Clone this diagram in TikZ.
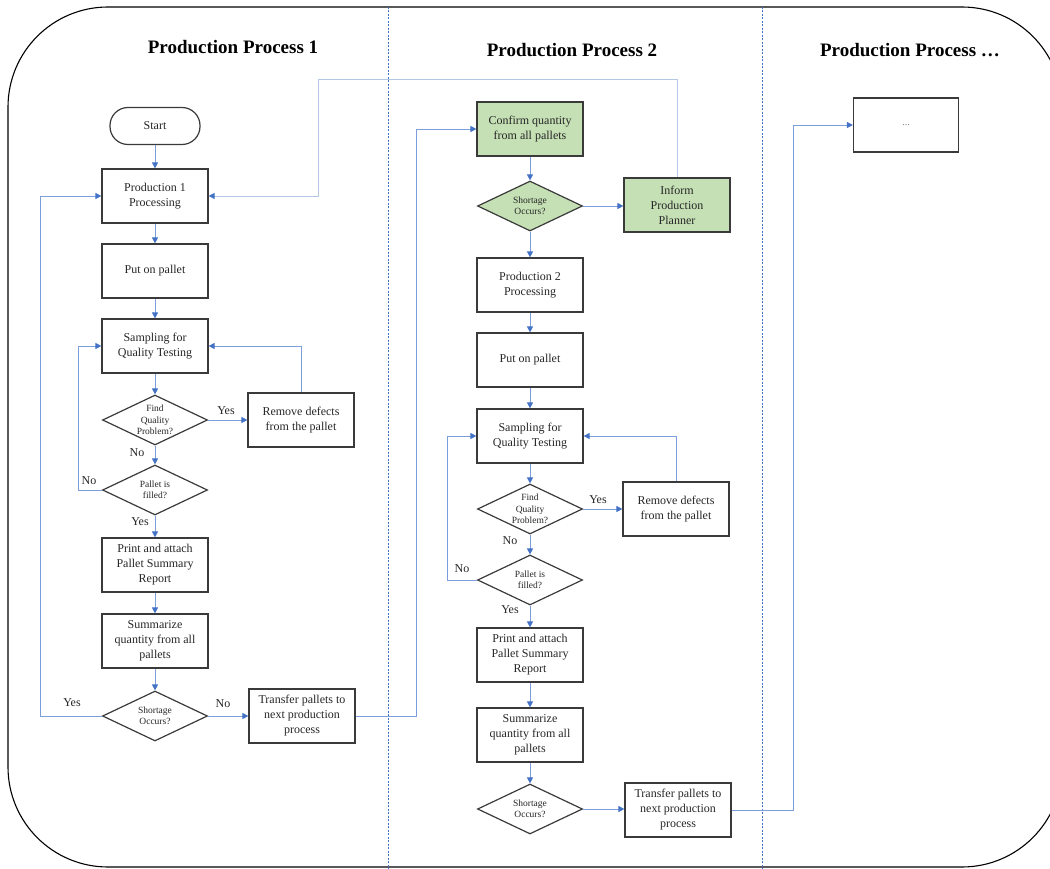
\documentclass[tikz,border=0pt]{standalone}
\usepackage{fontspec}
\setmainfont{Liberation Serif}
\usepackage{xcolor}
\usepackage{tikz}
\usetikzlibrary{positioning,calc,arrows.meta,shapes.geometric}
\definecolor{PFlow}{HTML}{7C9EDC}
\definecolor{PFlowLight}{HTML}{B4C7E7}
\definecolor{PArrow}{HTML}{4472C4}
\definecolor{PInk}{HTML}{262626}
\definecolor{PEdge}{HTML}{3A3A3A}
\definecolor{PGreen}{HTML}{C5E0B4}
\definecolor{PRule}{HTML}{4472C4}

\begin{document}
\begin{tikzpicture}[x=1pt,y=-1pt,
  every node/.style={align=center, text=PInk},
  procbox/.style={draw=PEdge, line width=1.2pt, minimum width=106pt, minimum height=54pt,
    inner sep=1pt, font=\fontsize{12}{15}\selectfont},
  decide/.style={draw=PEdge, line width=1.2pt, diamond, aspect=2.1, minimum width=105pt,
    minimum height=50pt, inner sep=0pt, font=\fontsize{9.5}{11.5}\selectfont},
  term/.style={draw=PEdge, line width=1.2pt, rounded corners=18pt, minimum width=90pt,
    minimum height=37pt, font=\fontsize{12}{15}\selectfont},
  lbl/.style={font=\fontsize{12}{14}\selectfont},
  title/.style={font=\fontsize{19}{21}\selectfont\bfseries, text=black},
  flow/.style={draw=PFlow, line width=0.9pt, -{Triangle[length=6pt,width=6pt,color=PArrow]}},
  flowlight/.style={flow, draw=PFlowLight}]
  \useasboundingbox (0,0) rectangle (1050,869);
  \begin{scope}
    \clip (0,0) rectangle (1050,869);
    \draw[black, line width=1.1pt, rounded corners=100pt] (8,7) rectangle (1062,867);
  \end{scope}

  \draw[draw=PRule, line width=0.8pt, dash pattern=on 2pt off 1.5pt] (388,7) -- (388,869);
  \draw[draw=PRule, line width=0.8pt, dash pattern=on 2pt off 1.5pt] (762,7) -- (762,869);

  \node[title] (t1) at (233,47) {Production Process 1};
  \node[title] (t2) at (572,50) {Production Process 2};
  \node[title] (t3) at (910,50) {Production Process \ldots};

  % process 1
  \node[term]    (start)   at (155,126) {Start};
  \node[procbox] (proc1)   at (155,196) {Production 1\\Processing};
  \node[procbox] (pallet1) at (155,271) {Put on pallet};
  \node[procbox] (samp1)   at (155,346) {Sampling for\\Quality Testing};
  \node[decide]  (find1)   at (155,420) {Find\\Quality\\Problem?};
  \node[procbox] (remove1) at (301,420) {Remove defects\\from the pallet};
  \node[decide]  (fill1)   at (155,490) {Pallet is\\filled?};
  \node[procbox] (print1)  at (155,565) {Print and attach\\Pallet Summary\\Report};
  \node[procbox] (summ1)   at (155,641) {Summarize\\quantity from all\\pallets};
  \node[decide]  (short1)  at (155,716) {Shortage\\Occurs?};
  \node[procbox] (trans1)  at (302,716) {Transfer pallets to\\next production\\process};

  \node[lbl] (yes1)  at (226,411) {Yes};
  \node[lbl] (no1)   at (137,453) {No};
  \node[lbl] (no2)   at (89,481)  {No};
  \node[lbl] (yes2)  at (140,522) {Yes};
  \node[lbl] (yes3)  at (72,703)  {Yes};
  \node[lbl] (no3)   at (223,704) {No};

  % process 2
  \node[procbox, fill=PGreen] (confirm) at (530,129) {Confirm quantity\\from all pallets};
  \node[decide, fill=PGreen]  (short0)  at (530,206) {Shortage\\Occurs?};
  \node[procbox, fill=PGreen] (inform)  at (677,205) {Inform\\Production\\Planner};
  \node[procbox] (proc2)   at (530,285) {Production 2\\Processing};
  \node[procbox] (pallet2) at (530,360) {Put on pallet};
  \node[procbox] (samp2)   at (530,436) {Sampling for\\Quality Testing};
  \node[decide]  (find2)   at (530,509) {Find\\Quality\\Problem?};
  \node[procbox] (remove2) at (676,509) {Remove defects\\from the pallet};
  \node[decide]  (fill2)   at (530,580) {Pallet is\\filled?};
  \node[procbox] (print2)  at (530,655) {Print and attach\\Pallet Summary\\Report};
  \node[procbox] (summ2)   at (530,735) {Summarize\\quantity from all\\pallets};
  \node[decide]  (short2)  at (530,809) {Shortage\\Occurs?};
  \node[procbox] (trans2)  at (678,810) {Transfer pallets to\\next production\\process};

  \node[lbl] (yes4) at (598,500) {Yes};
  \node[lbl] (no4)  at (510,541) {No};
  \node[lbl] (no5)  at (462,569) {No};
  \node[lbl] (yes5) at (510,610) {Yes};

  % process ...
  \node[procbox, minimum width=105pt] (more) at (906,125) {\fontsize{8}{9}\selectfont\ldots};

  \coordinate (back1) at (40,716);
  \coordinate (loop1) at (78,490);
  \coordinate (loop2) at (447,580);
  \coordinate (hop1)  at (416,129);
  \coordinate (hop2)  at (793,125);
  \coordinate (top1)  at (318,79);

  \draw[flow] (start) -- (proc1);
  \draw[flow] (proc1) -- (pallet1);
  \draw[flow] (pallet1) -- (samp1);
  \draw[flow] (samp1) -- (find1);
  \draw[flow] (find1) -- (remove1);
  \draw[flow] (remove1.north) |- (samp1.east);
  \draw[flow] (find1) -- (fill1);
  \draw[flow] (fill1.west) -- (loop1) |- (samp1.west);
  \draw[flow] (fill1) -- (print1);
  \draw[flow] (print1) -- (summ1);
  \draw[flow] (summ1) -- (short1);
  \draw[flow] (short1.west) -- (back1) |- (proc1.west);
  \draw[flow] (short1) -- (trans1);
  \draw[flow] (trans1.east) -| (hop1) -- (confirm.west);

  \draw[flow] (confirm) -- (short0);
  \draw[flow] (short0.east) -- (inform.west |- short0.east);
  \draw[flowlight] (inform.north) |- (top1) |- (proc1.east);
  \draw[flow] (short0) -- (proc2);
  \draw[flow] (proc2) -- (pallet2);
  \draw[flow] (pallet2) -- (samp2);
  \draw[flow] (samp2) -- (find2);
  \draw[flow] (find2) -- (remove2);
  \draw[flow] (remove2.north) |- (samp2.east);
  \draw[flow] (find2) -- (fill2);
  \draw[flow] (fill2.west) -- (loop2) |- (samp2.west);
  \draw[flow] (fill2) -- (print2);
  \draw[flow] (print2) -- (summ2);
  \draw[flow] (summ2) -- (short2);
  \draw[flow] (short2) -- (short2 -| trans2.west);
  \draw[flow] (trans2.east) -| (hop2) -- (more.west);
\end{tikzpicture}
\end{document}
